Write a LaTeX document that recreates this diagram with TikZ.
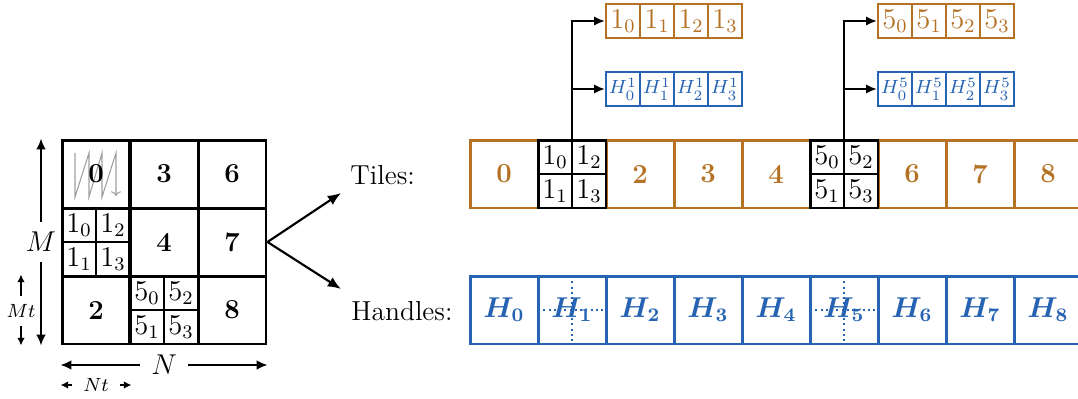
\documentclass[tikz,border=0pt]{standalone}
\usepackage{bm}
\usetikzlibrary{arrows.meta}
\definecolor{tileor}{RGB}{181,114,36}
\definecolor{handbl}{RGB}{38,99,178}
\begin{document}
\begin{tikzpicture}[x=0.0147059cm,y=-0.0147059cm,
  bigfont/.style={font=\fontsize{11.5}{14}\selectfont},
  gcell/.style={draw, line width=1.25pt, minimum size=1cm, inner sep=0pt, font=\fontsize{11.5}{14}\selectfont\bfseries},
  subcell/.style={draw, line width=0.8pt, minimum size=0.5cm, inner sep=0pt, font=\fontsize{12}{14}\selectfont},
  tcell/.style={draw=tileor, line width=1.25pt, minimum size=1cm, inner sep=0pt, text=tileor, font=\fontsize{11.5}{14}\selectfont\bfseries},
  hcell/.style={draw=handbl, line width=1.25pt, minimum size=1cm, inner sep=0pt, text=handbl, font=\fontsize{11.5}{14}\selectfont},
  subbox/.style={draw, line width=1.25pt, minimum size=1cm, inner sep=0pt},
  otop/.style={draw=tileor, line width=1pt, minimum size=0.5cm, inner sep=0pt, text=tileor, font=\fontsize{12}{14}\selectfont},
  btop/.style={draw=handbl, line width=1pt, minimum size=0.5cm, inner sep=0pt, text=handbl, font=\fontsize{8.2}{10}\selectfont},
  hdot/.style={handbl, line width=0.9pt, dash pattern=on 0.9pt off 1.3pt},
  dimbig/.style={line width=0.8pt, -{Latex[length=4.5pt,width=4pt]}},
  dimsmall/.style={line width=0.7pt, -{Latex[length=3.2pt,width=3.2pt]}},
  link/.style={line width=0.6pt, -{Latex[length=4.5pt,width=3.8pt]}},
  split/.style={line width=0.9pt, -{Latex[length=5.5pt,width=4.5pt]}}]
\clip (0,0) rectangle (1078,398);

% ---------- left grid ----------
\draw[gray!75, line width=0.45pt, -{To[length=2pt]}]
  (75,153)--(75,197)--(89,153)--(89,197)--(102,153)--(102,197)--(116,153)--(116,196);
% sub-grid of tile 1
\node[subcell] (l1a) at (79,225) {$1_0$};
\node[subcell] (l1c) at (113,225) {$1_2$};
\node[subcell] (l1b) at (79,259) {$1_1$};
\node[subcell] (l1d) at (113,259) {$1_3$};
% sub-grid of tile 5
\node[subcell] (l5a) at (147,293) {$5_0$};
\node[subcell] (l5c) at (181,293) {$5_2$};
\node[subcell] (l5b) at (147,327) {$5_1$};
\node[subcell] (l5d) at (181,327) {$5_3$};

\node[gcell] (g0) at (96,174) {0};
\node[gcell] (g3) at (164,174) {3};
\node[gcell] (g6) at (232,174) {6};
\node[gcell] (g1) at (96,242) {};
\node[gcell] (g4) at (164,242) {4};
\node[gcell] (g7) at (232,242) {7};
\node[gcell] (g2) at (96,310) {2};
\node[gcell] (g5) at (164,310) {};
\node[gcell] (g8) at (232,310) {8};

% dimensions
\node[bigfont, inner sep=4pt] (Mlab) at (41,242) {$M$};
\draw[dimbig] (Mlab.north) -- (Mlab.north |- g0.north);
\draw[dimbig] (Mlab.south) -- (Mlab.south |- g2.south);
\node[font=\footnotesize, inner xsep=0pt, inner ysep=3.5pt] (Mtlab) at (21,311) {$Mt$};
\draw[dimsmall] (Mtlab.north) -- (Mtlab.north |- g2.north);
\draw[dimsmall] (Mtlab.south) -- (Mtlab.south |- g2.south);
\node[bigfont, inner sep=0pt, inner xsep=4.5pt] (Nlab) at (164,365) {$N$};
\draw[dimbig] (Nlab.west) -- (Nlab.west -| g2.west);
\draw[dimbig] (Nlab.east) -- (Nlab.east -| g8.east);
\node[font=\footnotesize, inner ysep=0pt, inner xsep=4.5pt] (Ntlab) at (96,385) {$Nt$};
\draw[dimsmall] (Ntlab.west) -- (Ntlab.west -| g2.west);
\draw[dimsmall] (Ntlab.east) -- (Ntlab.east -| g2.east);

% split arrows
\coordinate (tarr) at (341,193);
\coordinate (harr) at (341,289);
\draw[split] (g7.east) -- (tarr);
\draw[split] (g7.east) -- (harr);
\node[bigfont, anchor=base west, inner sep=0pt] (tl) at (350,184) {Tiles:};
\node[bigfont, anchor=base west, inner sep=0pt] (hl) at (351,320) {Handles:};

% ---------- tiles row ----------
\node[tcell] (t0) at (504,174) {0};
\node[tcell] (t1) at (572,174) {};
\node[tcell] (t2) at (640,174) {2};
\node[tcell] (t3) at (708,174) {3};
\node[tcell] (t4) at (776,174) {4};
\node[tcell] (t5) at (844,174) {};
\node[tcell] (t6) at (912,174) {6};
\node[tcell] (t7) at (980,174) {7};
\node[tcell] (t8) at (1048,174) {8};
% sub-grids in tiles row
\node[subcell] (t1a) at (555,157) {$1_0$};
\node[subcell] (t1c) at (589,157) {$1_2$};
\node[subcell] (t1b) at (555,191) {$1_1$};
\node[subcell] (t1d) at (589,191) {$1_3$};
\node[subbox] (t1box) at (572,174) {};
\node[subcell] (t5a) at (827,157) {$5_0$};
\node[subcell] (t5c) at (861,157) {$5_2$};
\node[subcell] (t5b) at (827,191) {$5_1$};
\node[subcell] (t5d) at (861,191) {$5_3$};
\node[subbox] (t5box) at (844,174) {};

% ---------- handles row ----------
\draw[hdot] (572,276) -- (572,344);
\draw[hdot] (538,310) -- (606,310);
\draw[hdot] (844,276) -- (844,344);
\draw[hdot] (810,310) -- (878,310);
\node[hcell] (h0) at (504,310) {$\bm{H_0}$};
\node[hcell] (h1) at (572,310) {$\bm{H_1}$};
\node[hcell] (h2) at (640,310) {$\bm{H_2}$};
\node[hcell] (h3) at (708,310) {$\bm{H_3}$};
\node[hcell] (h4) at (776,310) {$\bm{H_4}$};
\node[hcell] (h5) at (844,310) {$\bm{H_5}$};
\node[hcell] (h6) at (912,310) {$\bm{H_6}$};
\node[hcell] (h7) at (980,310) {$\bm{H_7}$};
\node[hcell] (h8) at (1048,310) {$\bm{H_8}$};

% ---------- top arrays ----------
\node[otop] (o10) at (623,21) {$1_0$};
\node[otop] (o11) at (657,21) {$1_1$};
\node[otop] (o12) at (691,21) {$1_2$};
\node[otop] (o13) at (725,21) {$1_3$};
\node[btop] (b10) at (623,89) {$H^1_0$};
\node[btop] (b11) at (657,89) {$H^1_1$};
\node[btop] (b12) at (691,89) {$H^1_2$};
\node[btop] (b13) at (725,89) {$H^1_3$};
\node[otop] (o50) at (895,21) {$5_0$};
\node[otop] (o51) at (929,21) {$5_1$};
\node[otop] (o52) at (963,21) {$5_2$};
\node[otop] (o53) at (997,21) {$5_3$};
\node[btop] (b50) at (895,89) {$H^5_0$};
\node[btop] (b51) at (929,89) {$H^5_1$};
\node[btop] (b52) at (963,89) {$H^5_2$};
\node[btop] (b53) at (997,89) {$H^5_3$};

\draw[link] (t1box.north) |- (o10.west);
\draw[link] (t1box.north) |- (b10.west);
\draw[link] (t5box.north) |- (o50.west);
\draw[link] (t5box.north) |- (b50.west);
\end{tikzpicture}
\end{document}
